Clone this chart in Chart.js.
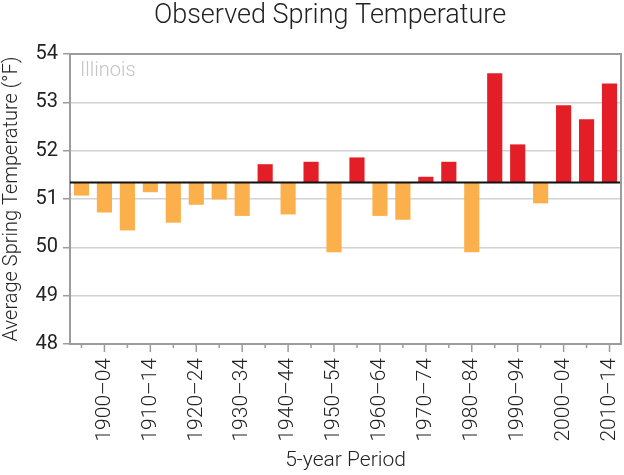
<!DOCTYPE html>
<html>
<head>
<meta charset="utf-8">
<script src="https://cdn.jsdelivr.net/npm/chart.js@4/dist/chart.umd.min.js"></script>
<style>
  html, body { margin: 0; padding: 0; background: #fff; }
  #wrap { position: relative; width: 624px; height: 475px; }
</style>
</head>
<body>
<div id="wrap"><canvas id="c"></canvas></div>
<script>
// 5-year periods, 1895-99 through 2010-14
const periods = [
  '1895–99', '1900–04', '1905–09', '1910–14', '1915–19', '1920–24',
  '1925–29', '1930–34', '1935–39', '1940–44', '1945–49', '1950–54',
  '1955–59', '1960–64', '1965–69', '1970–74', '1975–79', '1980–84',
  '1985–89', '1990–94', '1995–99', '2000–04', '2005–09', '2010–14'
];
// average spring temperature (°F)
const springTemps = [
  51.07, 50.72, 50.35, 51.14, 50.51, 50.88,
  50.99, 50.65, 51.72, 50.68, 51.77, 49.90,
  51.86, 50.65, 50.57, 51.46, 51.77, 49.90,
  53.60, 52.13, 50.91, 52.94, 52.65, 53.39
];
const longTermAvg = 51.34;
const yMin = 48, yMax = 54, yStep = 1;

const chartTitle = 'Observed Spring Temperature';
const regionLabel = 'Illinois';

const warmColor = '#E31E26';
const coolColor = '#FBB04B';
const frameColor = '#9c9c9c';
const font = 'Roboto';

// title, baseline, frame, x tick marks and the region label
const extras = {
  id: 'extras',
  afterDatasetsDraw(chart) {
    const { ctx, chartArea: a, scales } = chart;
    const yb = scales.y.getPixelForValue(longTermAvg);
    ctx.save();
    // average line
    ctx.strokeStyle = '#111';
    ctx.lineWidth = 2;
    ctx.beginPath();
    ctx.moveTo(a.left, yb);
    ctx.lineTo(a.right, yb);
    ctx.stroke();
    // top/right frame
    ctx.strokeStyle = frameColor;
    ctx.lineWidth = 2;
    ctx.beginPath();
    ctx.moveTo(a.left, a.top);
    ctx.lineTo(a.right, a.top);
    ctx.lineTo(a.right, a.bottom);
    ctx.stroke();
    // x tick marks, long on labelled periods
    ctx.lineWidth = 1.5;
    periods.forEach((p, i) => {
      const x = scales.x.getPixelForTick(i);
      ctx.beginPath();
      ctx.moveTo(x, a.bottom);
      ctx.lineTo(x, a.bottom + (i % 2 ? 8 : 4));
      ctx.stroke();
    });
    // region label
    ctx.fillStyle = '#c4c4c4';
    ctx.font = '300 20px ' + font;
    ctx.textBaseline = 'top';
    ctx.fillText(regionLabel, a.left + 10, a.top + 7);
    // main title
    ctx.fillStyle = '#222';
    ctx.font = '300 27px ' + font;
    ctx.textAlign = 'center';
    ctx.textBaseline = 'middle';
    ctx.fillText(chartTitle, 330, 16);
    ctx.restore();
  }
};

new Chart(document.getElementById('c'), {
  type: 'bar',
  data: {
    labels: periods,
    datasets: [{
      data: springTemps.map(v => [longTermAvg, v]),
      backgroundColor: springTemps.map(v => v > longTermAvg ? warmColor : coolColor),
      borderWidth: 0,
      barPercentage: 0.66,
      categoryPercentage: 1.0
    }]
  },
  options: {
    responsive: true,
    maintainAspectRatio: false,
    animation: false,
    layout: { padding: { top: 54, right: 3, left: 0, bottom: 0 } },
    plugins: {
      legend: { display: false },
      tooltip: { enabled: false }
    },
    scales: {
      x: {
        grid: { display: false, drawTicks: false },
        border: { display: true, color: frameColor, width: 2 },
        ticks: {
          autoSkip: false,
          maxRotation: 90,
          minRotation: 90,
          padding: 14,
          color: '#222',
          font: { family: font, size: 21, weight: '300' },
          callback: (v, i) => (i % 2 ? periods[i] : '')
        },
        title: {
          display: true,
          text: '5-year Period',
          color: '#222',
          padding: { top: 0, bottom: 2 },
          font: { family: font, size: 21, weight: '300' }
        },
        afterFit: s => {
          s.height = 131;
          s.paddingLeft = 0;
          s.paddingRight = 0;
        }
      },
      y: {
        min: yMin,
        max: yMax,
        grid: { color: '#d2d2d2', lineWidth: 1.5, tickColor: frameColor, tickLength: 7 },
        border: { color: frameColor, width: 2 },
        ticks: {
          stepSize: yStep,
          padding: 5,
          color: '#222',
          font: { family: font, size: 20, weight: '400' }
        },
        title: {
          display: true,
          text: 'Average Spring Temperature (°F)',
          color: '#222',
          padding: { top: 0, bottom: 0 },
          font: { family: font, size: 20, weight: '300' }
        },
        afterFit: s => {
          s.width = 70;
          s.paddingTop = 0;
          s.paddingBottom = 0;
        }
      }
    }
  },
  plugins: [extras]
});
</script>
</body>
</html>
